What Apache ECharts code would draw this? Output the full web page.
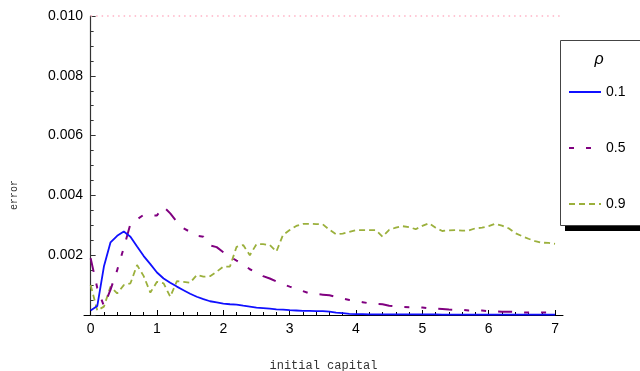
<!DOCTYPE html>
<html>
<head>
<meta charset="utf-8">
<script src="https://cdn.jsdelivr.net/npm/echarts@6/dist/echarts.min.js"></script>
<style>
  html, body { margin: 0; padding: 0; background: #fff; }
  #chart { width: 640px; height: 371px; }
</style>
</head>
<body>
<div id="chart"></div>
<script>
// Initial capital, sampled every 0.1
const capital = [
  0.0, 0.1, 0.2, 0.3, 0.4, 0.5, 0.6, 0.7, 0.8, 0.9,
  1.0, 1.1, 1.2, 1.3, 1.4, 1.5, 1.6, 1.7, 1.8, 1.9,
  2.0, 2.1, 2.2, 2.3, 2.4, 2.5, 2.6, 2.7, 2.8, 2.9,
  3.0, 3.1, 3.2, 3.3, 3.4, 3.5, 3.6, 3.7, 3.8, 3.9,
  4.0, 4.1, 4.2, 4.3, 4.4, 4.5, 4.6, 4.7, 4.8, 4.9,
  5.0, 5.1, 5.2, 5.3, 5.4, 5.5, 5.6, 5.7, 5.8, 5.9,
  6.0, 6.1, 6.2, 6.3, 6.4, 6.5, 6.6, 6.7, 6.8, 6.9,
  7.0
];

// Error values in units of 1e-3
const errRho01 = [
  0.15, 0.30, 1.62, 2.43, 2.65, 2.79, 2.62, 2.29, 1.97, 1.70,
  1.42, 1.22, 1.08, 0.95, 0.83, 0.71, 0.61, 0.53, 0.46, 0.42,
  0.38, 0.36, 0.35, 0.31, 0.28, 0.25, 0.23, 0.21, 0.19, 0.18,
  0.16, 0.15, 0.14, 0.14, 0.13, 0.13, 0.11, 0.08, 0.06, 0.04,
  0.03, 0.03, 0.02, 0.02, 0.02, 0.02, 0.02, 0.02, 0.02, 0.02,
  0.02, 0.02, 0.02, 0.01, 0.01, 0.01, 0.01, 0.01, 0.01, 0.01,
  0.01, 0.01, 0.01, 0.01, 0.01, 0.01, 0.01, 0.01, 0.01, 0.01,
  0.01
];
const errRho05 = [
  1.90, 0.90, 0.30, 0.85, 1.50, 2.25, 3.05, 3.20, 3.35, 3.33,
  3.33, 3.62, 3.40, 3.12, 2.90, 2.78, 2.65, 2.62, 2.33, 2.27,
  2.10, 1.95, 1.82, 1.70, 1.53, 1.42, 1.30, 1.22, 1.12, 1.03,
  0.95, 0.88, 0.80, 0.72, 0.70, 0.68, 0.66, 0.60, 0.55, 0.50,
  0.47, 0.43, 0.39, 0.37, 0.36, 0.31, 0.29, 0.27, 0.26, 0.26,
  0.25, 0.22, 0.21, 0.20, 0.18, 0.17, 0.18, 0.15, 0.15, 0.15,
  0.13, 0.12, 0.11, 0.11, 0.10, 0.09, 0.08, 0.08, 0.08, 0.08,
  0.08
];
const errRho09 = [
  1.00, 0.15, 0.28, 0.95, 0.72, 1.00, 1.06, 1.67, 1.30, 0.75,
  1.11, 1.06, 0.61, 1.13, 1.11, 1.08, 1.34, 1.28, 1.30, 1.45,
  1.62, 1.62, 2.28, 2.34, 2.00, 2.37, 2.37, 2.34, 2.12, 2.68,
  2.84, 2.98, 3.05, 3.05, 3.04, 3.03, 2.85, 2.70, 2.72, 2.78,
  2.84, 2.84, 2.84, 2.84, 2.62, 2.85, 2.92, 2.97, 2.94, 2.87,
  2.98, 3.07, 2.92, 2.81, 2.83, 2.84, 2.82, 2.83, 2.90, 2.92,
  2.97, 3.05, 2.99, 2.90, 2.74, 2.64, 2.55, 2.47, 2.42, 2.41,
  2.38
];

const rhoNames = ['0.1', '0.5', '0.9'];
const xTickLabels = [0, 1, 2, 3, 4, 5, 6, 7];
const xMinorTicks = [];
for (let i = 0; i < 35; i++) { if (i % 5 !== 0) xMinorTicks.push(+(i * 0.2).toFixed(1)); }
const plotCeiling = [0.01];

const pairs = (ys) => capital.map((c, i) => [c, ys[i] / 1000]);

const labelFont = 'Liberation Sans, Arial, sans-serif';
const monoFont = 'Liberation Mono, Courier New, monospace';

const chart = echarts.init(document.getElementById('chart'), null, { renderer: 'canvas' });

chart.setOption({
  animation: false,
  backgroundColor: '#ffffff',
  grid: { left: 84, right: 77, top: 16, bottom: 56, containLabel: false, outerBoundsMode: 'none' },
  xAxis: [
    {
      type: 'value', min: -0.1, max: 7.12,
      name: 'initial capital', nameLocation: 'middle', nameGap: 45,
      nameTextStyle: { fontFamily: monoFont, fontSize: 12, color: '#333' },
      axisLine: { show: true, lineStyle: { color: '#000', width: 1 } },
      axisTick: { show: true, inside: true, length: 5, customValues: xTickLabels, lineStyle: { color: '#000' } },
      axisLabel: { customValues: xTickLabels, margin: 7, fontFamily: labelFont, fontSize: 14, color: '#000' },
      splitLine: { show: false }
    },
    {
      type: 'value', min: -0.1, max: 7.12, position: 'bottom',
      axisLine: { show: false },
      axisTick: { show: true, inside: true, length: 3, customValues: xMinorTicks, lineStyle: { color: '#000' } },
      axisLabel: { show: false },
      splitLine: { show: false }
    }
  ],
  yAxis: {
    type: 'value', min: 0, max: 0.01, interval: 0.002,
    axisLine: { show: true, onZero: true, lineStyle: { color: '#333', width: 1.2 } },
    axisTick: { show: true, inside: true, length: 5, lineStyle: { color: '#333' } },
    minorTick: { show: true, splitNumber: 4, length: 3, lineStyle: { color: '#333' } },
    axisLabel: {
      margin: 1, fontFamily: labelFont, fontSize: 14, color: '#000',
      formatter: (v) => (v === 0 ? '' : v.toFixed(3))
    },
    splitLine: { show: false }
  },
  legend: {
    data: [
      { name: rhoNames[0] },
      { name: rhoNames[1], lineStyle: { type: [5, 12] } },
      { name: rhoNames[2], lineStyle: { type: [6, 4] } }
    ],
    orient: 'vertical', left: 568, top: 85, padding: 0,
    itemWidth: 32, itemHeight: 14, itemGap: 42,
    itemStyle: { opacity: 0 },
    textStyle: { fontFamily: labelFont, fontSize: 14, color: '#000' },
    z: 10
  },
  graphic: [
    // y-axis title, set a little below the plot's middle
    { type: 'text', z: 7, x: 14, y: 195, rotation: Math.PI / 2, style: { text: 'error', font: '10px Liberation Mono, Courier New, monospace', fill: '#333', align: 'center', verticalAlign: 'middle' } },
    // legend frame with its drop shadow
    { type: 'rect', z: 5, shape: { x: 565, y: 45, width: 80, height: 186 }, style: { fill: '#000' } },
    { type: 'rect', z: 6, shape: { x: 560.5, y: 40.5, width: 82, height: 185 }, style: { fill: '#fff', stroke: '#444', lineWidth: 1 } },
    { type: 'text', z: 7, x: 599, y: 60, style: { text: 'ρ', font: 'italic 16px Liberation Sans, Arial, sans-serif', fill: '#000', align: 'center', verticalAlign: 'middle' } }
  ],
  series: [
    {
      name: rhoNames[0], type: 'line', data: pairs(errRho01),
      showSymbol: false, symbol: 'none', z: 4,
      lineStyle: { color: '#1010ff', width: 1.8 }, itemStyle: { color: '#1010ff' }
    },
    {
      name: rhoNames[1], type: 'line', data: pairs(errRho05),
      showSymbol: false, symbol: 'none', z: 3,
      lineStyle: { color: '#800080', width: 2, type: [14, 12, 5, 12, 5, 12] }, itemStyle: { color: '#800080' }
    },
    {
      name: rhoNames[2], type: 'line', data: pairs(errRho09),
      showSymbol: false, symbol: 'none', z: 2,
      lineStyle: { color: '#9bb03c', width: 1.8, type: [6, 4] }, itemStyle: { color: '#9bb03c' }
    },
    {
      name: 'ceiling', type: 'line', silent: true,
      data: [[0, plotCeiling[0]], [7.12, plotCeiling[0]]],
      showSymbol: false, symbol: 'none', clip: false, z: 1,
      lineStyle: { color: '#ffb3c6', width: 1.5, type: [1.5, 4] }
    }
  ]
});
</script>
</body>
</html>
